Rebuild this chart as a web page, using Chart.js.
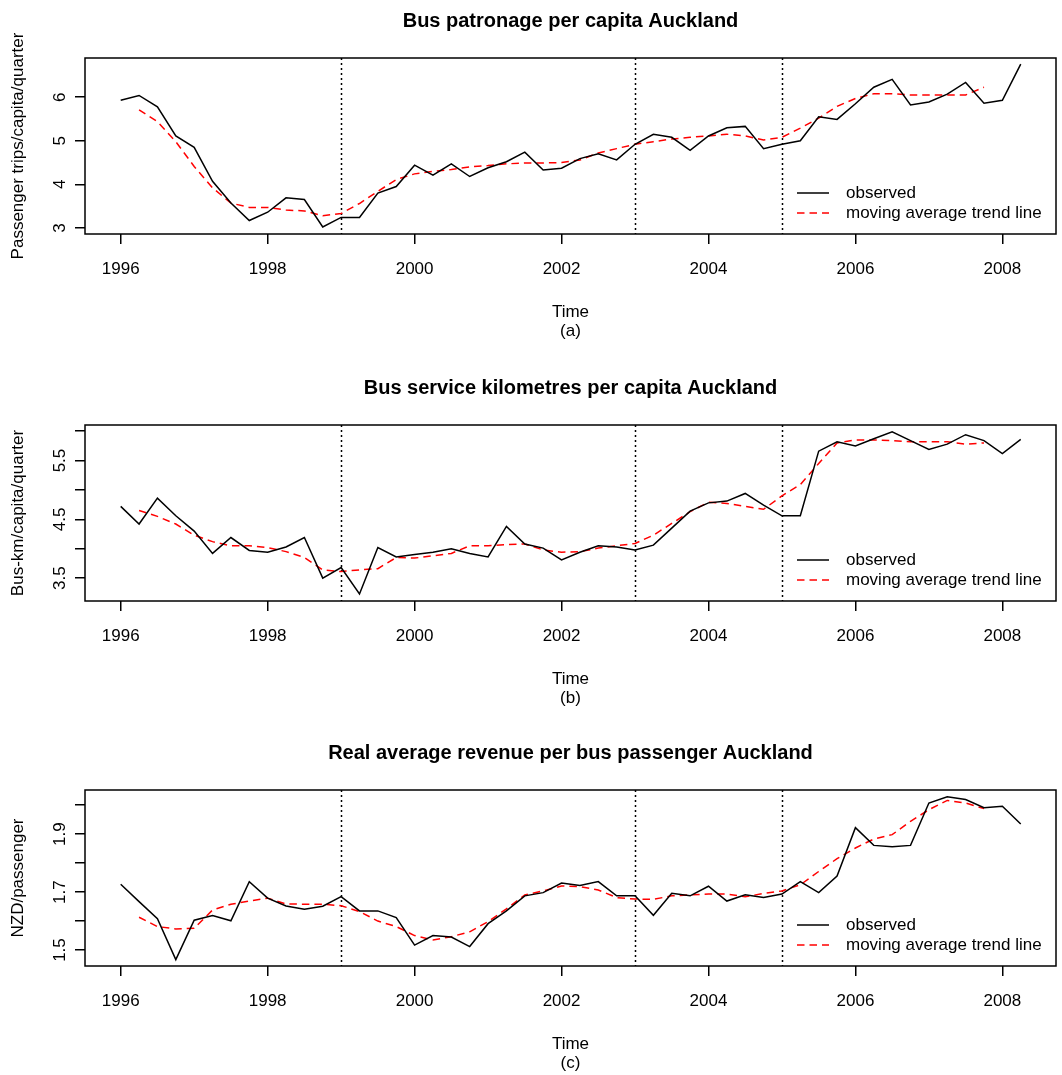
<!DOCTYPE html>
<html>
<head>
<meta charset="utf-8">
<title>Auckland bus indicators</title>
<script src="https://cdn.jsdelivr.net/npm/chart.js@4.4.1/dist/chart.umd.min.js"></script>
<style>
  html, body { margin: 0; padding: 0; background: #fff; }
  body { position: relative; width: 1062px; height: 1075px; overflow: hidden; }
  .panel { position: absolute; left: 0; width: 1062px; height: 366px; }
</style>
</head>
<body>
<div class="panel" style="top:0"><canvas id="patronage"></canvas></div>
<div class="panel" style="top:367px"><canvas id="serviceKm"></canvas></div>
<div class="panel" style="top:732px"><canvas id="revenue"></canvas></div>

<script>
// quarterly time points, 1996 Q1 .. 2008 Q2
const quarters = [
  1996, 1996.25, 1996.5, 1996.75, 1997, 1997.25, 1997.5, 1997.75,
  1998, 1998.25, 1998.5, 1998.75, 1999, 1999.25, 1999.5, 1999.75,
  2000, 2000.25, 2000.5, 2000.75, 2001, 2001.25, 2001.5, 2001.75,
  2002, 2002.25, 2002.5, 2002.75, 2003, 2003.25, 2003.5, 2003.75,
  2004, 2004.25, 2004.5, 2004.75, 2005, 2005.25, 2005.5, 2005.75,
  2006, 2006.25, 2006.5, 2006.75, 2007, 2007.25, 2007.5, 2007.75,
  2008, 2008.25
];
const xTicks = [1996, 1998, 2000, 2002, 2004, 2006, 2008];
const breakYears = [1999, 2003, 2005];
const legendLabels = ['observed', 'moving average trend line'];

// (a) passenger trips per capita per quarter
const patronageObserved = [
  5.93, 6.04, 5.78, 5.11, 4.85, 4.07, 3.57, 3.17, 3.36, 3.69,
  3.65, 3.02, 3.24, 3.24, 3.80, 3.95, 4.44, 4.21, 4.47, 4.18,
  4.38, 4.52, 4.74, 4.33, 4.37, 4.59, 4.70, 4.56, 4.92, 5.15,
  5.08, 4.78, 5.11, 5.30, 5.33, 4.82, 4.92, 5.00, 5.55, 5.49,
  5.85, 6.23, 6.41, 5.82, 5.89, 6.07, 6.34, 5.86, 5.93, 6.76
];
const patronageTrend = [
  null, 5.71, 5.44, 4.98, 4.41, 3.92, 3.57, 3.47, 3.47, 3.41,
  3.39, 3.28, 3.33, 3.56, 3.84, 4.11, 4.24, 4.30, 4.34, 4.40,
  4.43, 4.47, 4.49, 4.49, 4.50, 4.56, 4.72, 4.82, 4.92, 4.98,
  5.04, 5.08, 5.11, 5.15, 5.11, 5.02, 5.08, 5.29, 5.52, 5.79,
  5.97, 6.08, 6.08, 6.05, 6.05, 6.05, 6.05, 6.23, null, null
];
const patronageTicks = [3, 4, 5, 6];
const patronageTickLabels = ['3', '4', '5', '6'];

// (b) bus service km per capita per quarter
const serviceKmObserved = [
  4.72, 4.42, 4.86, 4.56, 4.30, 3.92, 4.19, 3.97, 3.94, 4.03,
  4.19, 3.50, 3.68, 3.23, 4.02, 3.86, 3.90, 3.94, 4.00, 3.92,
  3.86, 4.38, 4.08, 4.01, 3.81, 3.94, 4.05, 4.03, 3.98, 4.06,
  4.35, 4.64, 4.78, 4.81, 4.94, 4.74, 4.56, 4.56, 5.66, 5.82,
  5.75, 5.87, 5.99, 5.84, 5.69, 5.78, 5.94, 5.84, 5.62, 5.86
];
const serviceKmTrend = [
  null, 4.65, 4.55, 4.42, 4.23, 4.12, 4.05, 4.05, 4.02, 3.95,
  3.85, 3.64, 3.61, 3.64, 3.66, 3.85, 3.84, 3.88, 3.92, 4.05,
  4.05, 4.07, 4.08, 3.98, 3.94, 3.95, 4.01, 4.05, 4.09, 4.23,
  4.43, 4.63, 4.79, 4.77, 4.72, 4.67, 4.90, 5.09, 5.45, 5.80,
  5.85, 5.85, 5.84, 5.82, 5.82, 5.82, 5.78, 5.80, null, null
];
const serviceKmTicks = [3.5, 4, 4.5, 5, 5.5, 6];
const serviceKmTickLabels = ['3.5', '', '4.5', '', '5.5', ''];

// (c) real average revenue per passenger, NZD
const revenueObserved = [
  1.727, 1.667, 1.608, 1.467, 1.603, 1.619, 1.601, 1.736, 1.679, 1.652,
  1.641, 1.651, 1.684, 1.635, 1.635, 1.612, 1.517, 1.550, 1.545, 1.512,
  1.591, 1.635, 1.687, 1.698, 1.731, 1.723, 1.736, 1.687, 1.687, 1.620,
  1.696, 1.687, 1.720, 1.669, 1.691, 1.681, 1.693, 1.736, 1.698, 1.755,
  1.922, 1.861, 1.856, 1.861, 2.007, 2.029, 2.019, 1.991, 1.996, 1.935
];
const revenueTrend = [
  null, 1.613, 1.581, 1.573, 1.575, 1.638, 1.658, 1.669, 1.679, 1.659,
  1.658, 1.658, 1.653, 1.633, 1.600, 1.581, 1.550, 1.535, 1.546, 1.563,
  1.598, 1.642, 1.690, 1.704, 1.721, 1.719, 1.707, 1.681, 1.676, 1.675,
  1.687, 1.690, 1.693, 1.693, 1.684, 1.695, 1.704, 1.725, 1.771, 1.815,
  1.852, 1.883, 1.898, 1.944, 1.984, 2.016, 2.007, 1.988, null, null
];
const revenueTicks = [1.5, 1.6, 1.7, 1.8, 1.9, 2.0];
const revenueTickLabels = ['1.5', '', '1.7', '', '1.9', ''];

const FONT = "'Liberation Sans', Arial, Helvetica, sans-serif";

// box round the plot region
const frame = {
  id: 'frame',
  afterDraw(chart) {
    const { ctx, chartArea: a } = chart;
    ctx.save();
    ctx.strokeStyle = '#000';
    ctx.lineWidth = 1.5;
    ctx.strokeRect(a.left, a.top, a.right - a.left, a.bottom - a.top);
    ctx.restore();
  }
};

// dotted verticals at the break years
const breaks = {
  id: 'breaks',
  beforeDatasetsDraw(chart) {
    const { ctx, chartArea: a, scales: { x } } = chart;
    ctx.save();
    ctx.strokeStyle = '#000';
    ctx.lineWidth = 1.5;
    ctx.setLineDash([2, 3]);
    breakYears.forEach(yr => {
      const px = Math.round(x.getPixelForValue(yr)) + 0.5;
      ctx.beginPath();
      ctx.moveTo(px, a.top);
      ctx.lineTo(px, a.bottom);
      ctx.stroke();
    });
    ctx.restore();
  }
};

// legend in the bottom right corner, inside the box
const cornerLegend = {
  id: 'cornerLegend',
  afterDatasetsDraw(chart) {
    const { ctx, chartArea: a } = chart;
    const rowY = [a.bottom - 41, a.bottom - 21];
    ctx.save();
    ctx.font = '17px ' + FONT;
    ctx.textBaseline = 'middle';
    ctx.fillStyle = '#000';
    chart.data.datasets.forEach((ds, i) => {
      ctx.strokeStyle = ds.borderColor;
      ctx.lineWidth = ds.borderWidth;
      ctx.setLineDash(ds.borderDash || []);
      ctx.beginPath();
      ctx.moveTo(a.right - 259, rowY[i]);
      ctx.lineTo(a.right - 227, rowY[i]);
      ctx.stroke();
      ctx.fillText(ds.label, a.right - 210, rowY[i]);
    });
    ctx.restore();
  }
};

function makePanel(id, title, yTitle, caption, observed, trend, yMin, yMax, yTicks, yTickLabels, yPad) {
  const tickGrid = { drawOnChartArea: false, tickLength: 10, color: '#000', lineWidth: 1.5 };
  return new Chart(document.getElementById(id), {
    type: 'line',
    data: {
      labels: quarters,
      datasets: [
        { label: legendLabels[0], data: observed, borderColor: '#000000', borderWidth: 1.5,
          pointRadius: 0, tension: 0, fill: false },
        { label: legendLabels[1], data: trend, borderColor: '#ff0000', borderWidth: 1.5,
          borderDash: [7.5, 5], pointRadius: 0, tension: 0, fill: false }
      ]
    },
    options: {
      responsive: true,
      maintainAspectRatio: false,
      animation: false,
      events: [],
      layout: { padding: { left: 0, right: 6, top: 0, bottom: 0 } },
      plugins: {
        legend: { display: false },
        tooltip: { enabled: false },
        title: {
          display: true,
          text: title,
          fullSize: false,
          color: '#000',
          font: { family: FONT, size: 20, weight: 'bold' },
          padding: { top: 9, bottom: 25 }
        }
      },
      scales: {
        x: {
          type: 'linear',
          bounds: 'data',
          min: 1995.514,
          max: 2008.73,
          afterBuildTicks: s => { s.ticks = xTicks.map(v => ({ value: v })); },
          afterFit: s => { s.height = 132; },
          grid: tickGrid,
          border: { display: false },
          ticks: {
            autoSkip: false, maxRotation: 0, padding: 15, color: '#000',
            font: { family: FONT, size: 17 },
            callback: v => String(v)
          },
          title: {
            display: true,
            text: ['Time', caption],
            color: '#000',
            font: { family: FONT, size: 17, lineHeight: 1.12 },
            padding: { top: 0, bottom: 25 }
          }
        },
        y: {
          type: 'linear',
          bounds: 'data',
          min: yMin,
          max: yMax,
          afterBuildTicks: s => { s.ticks = yTicks.map(v => ({ value: v })); },
          afterFit: s => { s.width = 85; },
          grid: tickGrid,
          border: { display: false },
          ticks: {
            autoSkip: false, minRotation: 90, maxRotation: 90, crossAlign: 'center',
            padding: yPad, color: '#000',
            font: { family: FONT, size: 17 },
            callback: v => yTickLabels[yTicks.indexOf(v)]
          },
          title: {
            display: true,
            text: yTitle,
            color: '#000',
            font: { family: FONT, size: 17 },
            padding: { top: 8, bottom: 0 }
          }
        }
      }
    },
    plugins: [frame, breaks, cornerLegend]
  });
}

makePanel('patronage', 'Bus patronage per capita Auckland', 'Passenger trips/capita/quarter', '(a)',
  patronageObserved, patronageTrend, 2.86, 6.9, patronageTicks, patronageTickLabels, 10);
makePanel('serviceKm', 'Bus service kilometres per capita Auckland', 'Bus-km/capita/quarter', '(b)',
  serviceKmObserved, serviceKmTrend, 3.11, 6.105, serviceKmTicks, serviceKmTickLabels, 3);
makePanel('revenue', 'Real average revenue per bus passenger Auckland', 'NZD/passenger', '(c)',
  revenueObserved, revenueTrend, 1.445, 2.052, revenueTicks, revenueTickLabels, 3);
</script>
</body>
</html>
